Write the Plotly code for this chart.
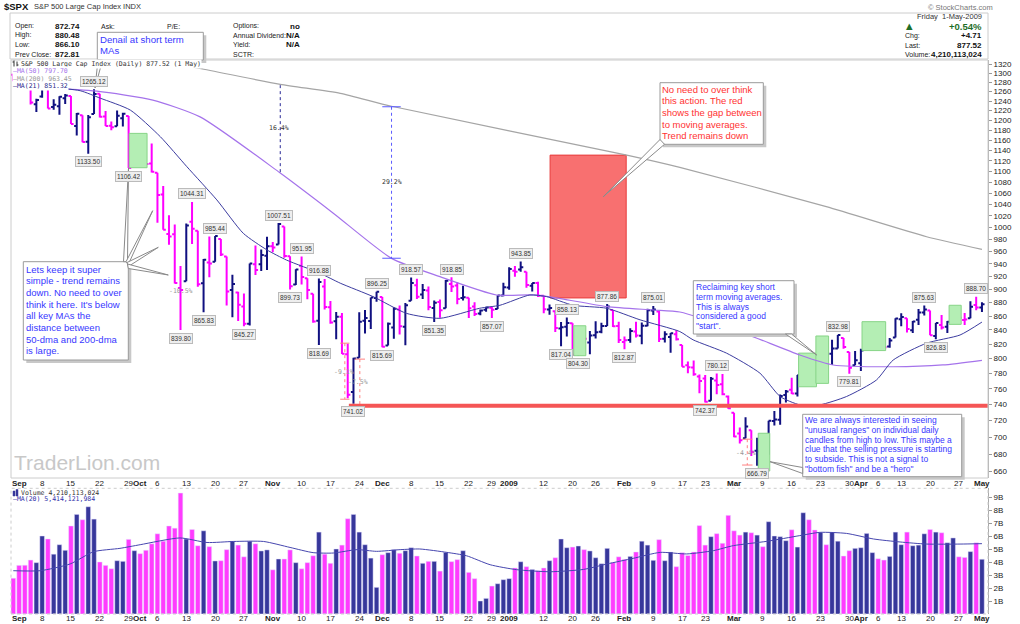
import math
import pandas as pd
import plotly.graph_objects as go

# ---------------- data ----------------
HOLIDAYS = ["2008-09-01", "2008-11-27", "2008-12-25", "2009-01-01",
            "2009-01-19", "2009-02-16", "2009-04-10"]
dates = [d for d in pd.bdate_range("2008-08-29", "2009-05-01")
         if d.strftime("%Y-%m-%d") not in HOLIDAYS]
xi = list(range(len(dates)))

prev_close = 1300.68  # close of 28-Aug-2008

opens = [1296.49,
 1287.83,1276.61,1271.80,1233.21, 1249.50,1267.98,1227.50,1229.04,1245.88, 1250.92,1188.31,1210.34,1157.08,1213.11, 1255.37,1207.61,1188.79,1187.87,1204.47, 1209.07,1113.78,
 1164.17,1160.64,1115.16, 1097.56,1057.60,988.91,988.42,902.31, 912.75,1009.97,994.60,909.53,942.29, 943.51,980.40,951.67,899.08,895.07, 874.28,848.92,939.51,939.38,953.11,
 968.67,971.31,1001.84,952.40,907.44, 936.75,917.15,893.39,853.13,904.36, 873.23,852.34,859.03,805.87,755.84, 801.20,853.40,852.90,886.89,
 888.61,817.94,843.60,869.75,844.43, 882.71,906.48,892.17,898.35,871.79, 881.07,871.53,908.16,905.98,886.96, 887.20,874.31,863.87,869.51, 872.37,870.58,890.59,
 902.99, 929.17,931.17,927.45,905.73,909.91, 890.40,869.79,867.28,841.99,844.45, 849.64,806.77,839.74,822.16, 832.50,837.30,845.73,868.89,845.69,
 823.09,825.69,837.77,831.75,846.09, 868.24,866.87,827.41,829.91,833.95, 818.61,791.06,787.91,775.87, 773.25,744.69,770.64,765.76,749.93,
 729.57,704.44,698.60,708.27,684.04, 680.76,679.28,719.59,720.89,751.97, 758.84,753.88,776.01,797.92,784.58, 772.00,820.60,806.81,814.06,828.68, 809.07,790.88,
 793.59,814.53,835.13, 839.75,834.12,816.76,829.29, 855.33,856.88,839.44,854.54,865.18, 868.27,831.25,847.26,844.62,853.91, 862.82,854.48,856.85,876.59,
 872.74]

highs = [1297.59,
 1303.04,1280.60,1271.80,1244.94, 1274.42,1268.66,1243.90,1249.98,1255.09, 1250.92,1214.84,1210.34,1211.14,1265.12, 1255.37,1219.15,1197.41,1220.03,1215.77, 1209.07,1168.03,
 1167.03,1160.64,1153.82, 1097.56,1072.91,1021.06,1005.25,936.36, 1006.93,1044.31,994.60,947.71,984.64, 985.44,980.40,951.67,922.83,896.30, 893.78,940.51,969.97,963.23,984.38,
 975.57,1007.51,1001.84,952.40,931.46, 951.95,917.15,893.39,916.88,916.20, 882.29,865.90,864.57,820.52,801.20, 865.60,868.94,887.68,896.25,
 888.61,850.54,873.12,875.60,879.42, 918.57,916.26,908.27,904.63,883.24, 884.63,914.66,918.85,911.02,905.47, 887.37,880.44,869.79,873.74, 873.70,891.12,910.32,
 934.73, 936.63,943.85,927.45,910.00,911.93, 890.40,877.02,867.28,851.59,858.13, 849.64,841.72,839.74,838.61, 852.53,850.45,877.86,868.89,851.66,
 830.78,842.60,851.85,850.55,870.75, 875.01,868.05,838.22,835.48,839.43, 818.61,796.17,797.58,778.69, 777.85,775.49,780.12,779.42,751.27,
 729.57,711.67,724.12,708.27,699.09, 695.27,719.60,731.92,752.63,758.29, 774.53,778.12,803.04,803.24,788.91, 823.37,823.65,826.27,832.98,828.68, 809.07,810.48,
 813.62,845.61,842.50, 839.75,834.12,828.42,856.91, 864.31,856.88,852.93,870.35,875.63, 868.27,850.09,861.78,852.87,871.80, 868.83,864.48,882.06,888.70,
 880.48]

lows = [1282.74,
 1272.20,1265.59,1232.83,1217.23, 1247.12,1224.51,1221.60,1211.54,1233.81, 1192.70,1169.28,1155.88,1133.50,1213.11, 1205.61,1188.22,1179.79,1187.87,1187.54, 1106.42,1113.78,
 1140.77,1111.43,1098.14, 1007.97,996.23,970.97,909.19,839.80, 912.75,972.07,903.99,865.83,918.74, 943.51,952.47,875.81,858.44,852.85, 845.27,846.30,922.26,928.50,930.23,
 958.82,971.31,949.86,899.73,906.90, 907.47,884.90,850.48,818.69,869.88, 848.98,826.84,806.18,747.78,741.02, 801.20,834.99,841.37,881.21,
 815.69,817.94,827.60,833.60,818.41, 882.71,885.38,885.45,868.73,851.35, 857.72,871.53,895.94,877.44,883.02, 857.09,860.10,861.44,866.52, 857.07,870.58,889.67,
 899.35, 919.53,927.28,902.37,896.81,888.31, 864.32,862.02,836.93,817.04,830.66, 804.47,804.30,811.29,806.07, 827.69,835.40,845.73,844.15,821.67,
 812.87,821.98,829.18,819.91,845.42, 861.65,822.99,822.30,808.06,825.21, 789.17,780.43,777.03,754.25, 742.37,744.69,752.89,751.75,734.52,
 699.70,692.30,698.60,677.93,666.79, 672.88,679.28,713.85,714.76,742.46, 753.37,749.93,765.64,781.82,766.20, 772.00,805.48,791.37,814.06,813.43, 779.81,790.88,
 783.32,814.53,826.70, 822.79,814.53,814.84,829.29, 845.35,836.31,835.58,847.04,860.87, 832.39,826.83,840.57,835.58,853.91, 854.65,847.12,856.85,868.51,
 866.10]

closes = [1282.83,
 1277.58,1274.98,1236.83,1242.31, 1267.79,1224.51,1232.04,1249.05,1251.70, 1192.70,1213.60,1156.39,1206.51,1255.08, 1207.09,1188.22,1185.87,1209.18,1213.27, 1106.42,1166.36,
 1161.06,1114.28,1099.23, 1056.89,996.23,984.94,909.92,899.22, 1003.35,998.01,907.84,946.43,940.55, 985.40,955.05,896.78,908.11,876.77, 848.92,940.51,930.09,954.09,968.75,
 966.30,1005.75,952.77,904.88,930.99, 919.21,898.95,852.30,911.29,873.29, 850.75,859.12,806.58,752.44,800.03, 851.81,857.39,887.68,896.24,
 816.21,848.81,870.74,845.22,876.07, 909.70,888.67,899.24,873.59,879.73, 868.57,913.18,904.42,885.28,887.88, 871.63,863.16,868.15,872.80, 869.42,890.64,903.25,
 931.80, 927.45,934.70,906.65,909.73,890.35, 870.26,871.79,842.62,843.74,850.12, 805.22,840.24,827.50,831.95, 836.57,845.71,874.09,845.14,825.88,
 825.44,838.51,832.23,845.85,868.60, 869.89,827.16,833.74,835.19,826.84, 789.17,788.42,778.94,770.05, 743.33,773.14,764.90,752.83,735.09,
 700.82,696.33,712.87,682.55,683.38, 676.53,719.60,721.36,750.74,756.55, 753.89,778.12,794.35,784.04,768.54, 822.92,806.12,813.88,832.86,815.94, 787.53,797.87,
 811.08,834.38,842.50, 835.48,815.55,825.16,856.56, 858.73,841.50,852.06,865.30,869.60, 832.39,850.08,843.55,851.92,866.23, 857.51,855.16,873.64,872.81,
 877.52]

# volume in billions of shares
volumes_b = [2.75,
 3.74,3.75,4.15,3.95, 6.0,5.77,4.6,5.33,4.9, 6.77,7.66,7.25,8.25,7.3, 4.0,3.74,3.48,4.1,4.05, 5.74,4.87,
 4.64,4.9,5.4, 6.17,5.6,6.77,6.6,9.3, 5.77,6.5,5.25,6.4,5.18, 4.08,4.1,4.95,5.6,5.3, 4.4,5.6,5.4,4.85,4.93,
 3.4,4.23,4.23,4.93,3.95, 3.48,3.95,4.48,6.3,4.6, 3.9,5.0,5.3,7.33,7.66, 6.3,5.33,4.3,2.05,
 4.56,4.72,4.95,4.67,4.87, 5.1,4.46,3.9,4.05,4.05, 3.3,4.74,4.03,4.18,4.87, 3.2,2.72,1.0,1.2, 2.15,2.33,2.64,
 2.72, 3.54,4.02,3.64,3.43,3.33, 3.54,4.1,4.33,5.77,5.1, 5.15,5.23,4.95,4.85, 4.33,3.87,5.05,3.97,4.4,
 4.2,4.43,4.77,5.6,5.3, 4.13,5.72,4.1,4.77,3.64, 4.72,4.5,4.77,6.8, 5.3,5.95,6.18,5.44,7.59,
 6.4,6.07,6.3,6.25,6.07, 5.18,7.1,6.0,5.95,5.64, 6.48,5.15,7.79,7.25,6.46, 6.28,5.33,6.28,5.6,4.46, 4.87,5.05,
 5.1,6.2,4.72, 4.25,4.15,4.43,6.3, 5.33,6.3,5.25,5.3,6.17, 6.5,6.3,6.25,5.48,5.85, 4.4,4.35,4.8,5.48,
 4.21]

# moving averages (trading-day index, value)
ma200_x = [15, 31.9, 46.3, 56.7, 65.6, 106.4, 115.6, 141, 158.4, 168]
ma200_y = [1354, 1311.7, 1275.8, 1256.4, 1229, 1131, 1107.7, 1036, 984.4, 963.45]
ma50_x = [0, 6.4, 14.5, 24.2, 32.4, 46.3, 55.5, 65.6, 74, 83.8, 89.6, 93.6, 103, 111, 115.6,
          126.6, 136.4, 142.2, 152.6, 161.2, 168]
ma50_y = [1268, 1267, 1261, 1242, 1207, 1097, 1024.6, 948.8, 919.7, 891.5, 891.5, 888, 874, 869, 866,
          835.7, 805, 791.4, 789, 791.4, 797.7]
ma21_x = [0, 6.4, 11.6, 15.1, 20.3, 25.5, 30.1, 35.3, 39.9, 44, 47.4, 53.2, 56.7, 62.4, 68.2, 74,
          80.9, 84.4, 89.6, 92.5, 97.1, 102.9, 108.7, 115.6, 117.9, 123.7, 129.5, 133, 136.4, 139.9,
          144.5, 149.7, 152.6, 158.4, 164.2, 168]
ma21_y = [1271, 1269, 1262, 1246, 1221, 1167, 1109, 1048, 990, 962.5, 946, 925, 909.6, 889, 864, 856.8,
          871.6, 876, 891.5, 889, 876, 871.6, 854.6, 837.7, 826, 807.5, 780.4, 750, 739.5, 739.5,
          750, 771.4, 798, 821.3, 832.8, 851.3]
vma_x = [0, 4.65, 9.86, 13.9, 18.5, 22, 28.9, 33.6, 38.2, 43.4, 48, 52, 55.5, 59.6, 63, 67.1, 70.5,
         75.2, 78.6, 82.7, 87.3, 93.1, 98.9, 103, 107.5, 112.2, 116.8, 121.4, 124.9, 130.7, 136.4,
         139.9, 144.5, 149.2, 153.8, 158.4, 164.2, 168]
vma_y = [3.33, 3.33, 3.85, 4.79, 5.05, 5.33, 5.85, 5.5, 5.58, 5.58, 5.12, 4.72, 4.69, 4.95, 4.82, 4.95,
         5.0, 4.74, 4.48, 3.79, 3.41, 3.25, 3.43, 3.85, 4.28, 4.74, 4.62, 4.87, 5.26, 5.59, 6.03,
         6.28, 6.2, 5.77, 5.54, 5.38, 5.38, 5.41]

tick_idx = [1, 5, 10, 15, 20, 22, 25, 30, 35, 40, 45, 50, 55, 60, 64, 69, 74, 79, 83, 86, 92, 97, 101,
            106, 111, 116, 120, 125, 130, 135, 140, 145, 147, 150, 154, 159, 164, 168]
tick_txt = ["<b>Sep</b>", "8", "15", "22", "29", "<b>Oct</b>", "6", "13", "20", "27", "<b>Nov</b>",
            "10", "17", "24", "<b>Dec</b>", "8", "15", "22", "29", "<b>2009</b>", "12", "20", "26",
            "<b>Feb</b>", "9", "17", "23", "<b>Mar</b>", "9", "16", "23", "30", "<b>Apr</b>", "6",
            "13", "20", "27", "<b>May</b>"]

high_label_idx = [14, 31, 35, 46, 50, 53, 63, 69, 76, 88, 96, 103, 111, 122, 143, 158, 167]
low_label_idx = [13, 20, 29, 33, 40, 48, 53, 59, 64, 73, 83, 95, 98, 106, 120, 129, 145, 160]

n = len(dates)
assert all(len(a) == n for a in (opens, highs, lows, closes, volumes_b)), [len(a) for a in (opens, highs, lows, closes, volumes_b)]

# ---------------- styling / geometry ----------------
W, H = 1020, 624
ML, MR, MT, MB = 11, 32, 60, 10
SANS = "Liberation Sans"
MONO = "DejaVu Sans Mono"
MAG = "rgb(255,0,255)"
NAVY = "rgb(16,16,128)"
VMAG = "rgb(255,60,255)"
VNAVY = "rgb(55,55,155)"
BLUE_TXT = "rgb(55,55,255)"
RED_TXT = "rgb(255,50,50)"

def px(x):
    return (x - ML) / (W - ML - MR)

def py(y):
    return (H - MB - y) / (H - MT - MB)

PRICE_DOM = [py(478), 1.0]
VOL_DOM = [0.0, py(488.3)]
XR = [-0.4, 169.05]

prev = [prev_close] + closes[:-1]
up = [closes[i] >= prev[i] for i in range(n)]

fig = go.Figure()

# highlight boxes (green) and gap box (red)
GREEN_BOXES = [(20.1, 23.2, 1107, 1173.6), (97.2, 99.3, 804, 846), (129.2, 131.2, 660.8, 704.6),
               (136.2, 139.3, 762.6, 807.5), (139.2, 141.4, 767, 831.4), (147.2, 151.3, 811, 851.9),
               (162.3, 164.4, 848, 876)]
for x0, x1, y0, y1 in GREEN_BOXES:
    fig.add_trace(go.Scatter(x=[x0, x1, x1, x0, x0], y=[y0, y0, y1, y1, y0], mode="lines",
                             fill="toself", fillcolor="rgb(180,238,180)",
                             line=dict(color="rgb(135,212,135)", width=1), hoverinfo="skip"))

RED_GAP = (93.1, 106.3, 887, 1131)
x0, x1, y0, y1 = RED_GAP
fig.add_trace(go.Scatter(x=[x0, x1, x1, x0, x0], y=[y0, y0, y1, y1, y0], mode="lines",
                         fill="toself", fillcolor="rgb(248,112,112)",
                         line=dict(color="rgb(232,60,60)", width=1), hoverinfo="skip"))

# moving averages
fig.add_trace(go.Scatter(x=ma200_x, y=ma200_y, mode="lines", line=dict(color="rgb(165,165,165)", width=1.2, shape="spline", smoothing=0.6), hoverinfo="skip"))
fig.add_trace(go.Scatter(x=ma50_x, y=ma50_y, mode="lines", line=dict(color="rgb(165,115,235)", width=1.2, shape="spline", smoothing=0.6), hoverinfo="skip"))
fig.add_trace(go.Scatter(x=ma21_x, y=ma21_y, mode="lines", line=dict(color="rgb(60,60,160)", width=1, shape="spline", smoothing=0.6), hoverinfo="skip"))

# measurement dashed lines
MEASURES = [  # x, top, bottom, color, cap half width
    (46.3, 1274, 1097, "rgb(40,40,150)", 0),
    (65.6, 1228, 949, "rgb(90,90,255)", 1.6),
    (57.5, 821.3, 746.6, "rgb(255,130,130)", 0.8),
    (60.1, 799.3, 739.4, "rgb(255,130,130)", 0.9),
    (127.3, 697.5, 667.5, "rgb(255,130,130)", 0.9),
]
for mx, top, bot, col, cap in MEASURES:
    fig.add_trace(go.Scatter(x=[mx, mx], y=[top, bot], mode="lines",
                             line=dict(color=col, width=1, dash="dot"), hoverinfo="skip"))
    if cap:
        for yy in (top, bot):
            fig.add_trace(go.Scatter(x=[mx - cap, mx + cap], y=[yy, yy], mode="lines",
                                     line=dict(color=col, width=1), hoverinfo="skip"))

# price bars (coloured by close vs previous close)
for mask, col in ((up, NAVY), ([not u for u in up], MAG)):
    ids = [i for i in range(n) if mask[i]]
    fig.add_trace(go.Ohlc(x=ids, open=[opens[i] for i in ids], high=[highs[i] for i in ids],
                          low=[lows[i] for i in ids], close=[closes[i] for i in ids],
                          increasing=dict(line=dict(color=col, width=2)),
                          decreasing=dict(line=dict(color=col, width=2)),
                          tickwidth=0.45, hoverinfo="skip"))

# support line
SUPPORT = (58.2, 169.05, 738.5)
fig.add_trace(go.Scatter(x=[SUPPORT[0], SUPPORT[1]], y=[SUPPORT[2], SUPPORT[2]], mode="lines",
                         line=dict(color="rgb(245,85,85)", width=4), hoverinfo="skip"))

# volume
fig.add_trace(go.Bar(x=xi, y=volumes_b, xaxis="x2", yaxis="y2", width=0.8,
                     marker=dict(color=[VNAVY if u else VMAG for u in up],
                                 line=dict(color="rgba(230,225,255,0.8)", width=0.6)),
                     hoverinfo="skip"))
fig.add_trace(go.Scatter(x=vma_x, y=vma_y, xaxis="x2", yaxis="y2", mode="lines",
                         line=dict(color="rgb(70,70,175)", width=1, shape="spline", smoothing=0.6),
                         hoverinfo="skip"))

# ---------------- annotations ----------------
ann = []
shapes = []

def T(x, y, s, size=7.5, color="#222", anchor="left", bold=False, family=SANS, bg=None):
    a = dict(xref="paper", yref="paper", x=px(x), y=py(y), text=(f"<b>{s}</b>" if bold else s),
             showarrow=False, xanchor=anchor, yanchor="middle", borderpad=0,
             font=dict(size=size, color=color, family=family))
    if bg:
        a["bgcolor"] = bg
    ann.append(a)

def rect(x0, y0, x1, y1, line="#999", fill="white", width=1, dash=None):
    d = dict(type="rect", xref="paper", yref="paper", x0=px(x0), x1=px(x1), y0=py(y1), y1=py(y0),
             line=dict(color=line, width=width), fillcolor=fill)
    if dash:
        d["line"]["dash"] = dash
    shapes.append(d)

def wedge(b1, b2, apex):
    p = f"M {px(b1[0])},{py(b1[1])} L {px(apex[0])},{py(apex[1])} L {px(b2[0])},{py(b2[1])} Z"
    shapes.append(dict(type="path", xref="paper", yref="paper", path=p, fillcolor="white",
                       line=dict(color="#8a8a8a", width=1)))

# panel frames
rect(10, 13, 988, 59, line="#cccccc", fill="rgba(0,0,0,0)")
rect(11, 60, 988, 478, line="#cccccc", fill="rgba(0,0,0,0)")
rect(11, 488.3, 988, 614, line="#cccccc", fill="rgba(0,0,0,0)", dash="dot")

# date labels between the panels and under the volume panel
for ti, tt in zip(tick_idx, tick_txt):
    for yy in (483.3, 618.3):
        ann.append(dict(xref="x", yref="paper", x=ti, y=py(yy), text=tt, showarrow=False,
                        xanchor="center", yanchor="middle", borderpad=0,
                        font=dict(size=8, family=SANS, color="#222")))

# header
T(3, 7, "$SPX", size=9.5, bold=True, color="#111")
T(33, 7, "S&amp;P 500 Large Cap Index INDX", size=7.5, color="#333")
T(960, 7.3, "© StockCharts.com", size=7.5, color="#777", anchor="center")
rows = [26, 35.3, 44.7, 54]
for y, lab, val in zip(rows, ["Open:", "High:", "Low:", "Prev Close:"],
                       [opens[-1], highs[-1], lows[-1], closes[-2]]):
    T(14, y, lab, size=7)
    T(53.5, y, f"{val:.2f}", size=8, bold=True, color="#111")
T(99.5, 26, "Ask:", size=7)
T(166, 26, "P/E:", size=7)
for y, lab, val in zip(rows, ["Options:", "Annual Dividend:", "Yield:", "SCTR:"], ["no", "N/A", "N/A", ""]):
    T(232, y, lab, size=7)
    if val:
        T(300.7, y, val, size=8, bold=True, anchor="right", color="#111")
chg = closes[-1] - closes[-2]
T(983.3, 16.7, "Friday  1-May-2009", size=7.5, anchor="right", color="#333")
T(909, 26, "▲", size=8.5, anchor="center", color="rgb(30,110,40)", family="DejaVu Sans")
T(983.3, 26.5, f"+{chg / closes[-2] * 100:.2f}%", size=9.5, bold=True, anchor="right", color="rgb(30,110,40)")
T(904, 35.7, "Chg:", size=7)
T(983.3, 35.7, f"+{chg:.2f}", size=8, bold=True, anchor="right", color="#111")
T(904, 45, "Last:", size=7)
T(983.3, 45, f"{closes[-1]:.2f}", size=8, bold=True, anchor="right", color="#111")
T(904, 54.3, "Volume:", size=7)
T(983.3, 54.3, "4,210,113,024", size=8, bold=True, anchor="right", color="#111")

# price-panel legend
shapes.append(dict(type="path", xref="paper", yref="paper",
                   path=f"M {px(14)},{py(60.5)} L {px(14)},{py(67)} M {px(12.5)},{py(62)} L {px(14)},{py(62)} "
                        f"M {px(17)},{py(61.5)} L {px(17)},{py(66.5)} M {px(17)},{py(65)} L {px(18.5)},{py(65)}",
                   line=dict(color="#333", width=1)))
T(20, 63.8, f"S&amp;P 500 Large Cap Index (Daily) {closes[-1]:.2f} (1 May)", size=6.5, family=MONO, color="#333", bg="white")
T(12, 71.5, "\u2014MA(50) 797.70", size=6.5, family=MONO, color="rgb(165,115,235)", bg="white")
T(12, 79, "\u2014MA(200) 963.45", size=6.5, family=MONO, color="#999", bg="white")
T(12, 86.3, "\u2014MA(21) 851.32", size=6.5, family=MONO, color="rgb(40,40,140)", bg="white")

# volume legend
shapes.append(dict(type="path", xref="paper", yref="paper",
                   path=f"M {px(13)},{py(496)} L {px(13)},{py(491)} L {px(15)},{py(491)} L {px(15)},{py(496)} Z "
                        f"M {px(16)},{py(496)} L {px(16)},{py(489.5)} L {px(18)},{py(489.5)} L {px(18)},{py(496)} Z",
                   fillcolor="rgb(55,55,155)", line=dict(color="rgb(55,55,155)", width=0.5)))
T(20, 492.7, "Volume 4,210,113,024", size=6.5, family=MONO, color="#333")
T(12, 499.3, "\u2014MA(20) 5,414,121,984", size=6.5, family=MONO, color="rgb(50,50,170)")

# watermark
T(13.3, 462, "TraderLion.com", size=21, color="rgb(200,200,200)")

# measurement texts
T(279.3, 128, "16.4%", size=6.5, family=MONO, anchor="center", color="#333")
T(391.7, 182, "29.2%", size=6.5, family=MONO, anchor="center", color="#333")
T(181, 290.5, "-10.5%", size=6.5, family=MONO, anchor="center", color="#999")
T(344, 371.7, "-9.1%", size=6.5, family=MONO, anchor="center", color="#999")
T(358, 381.7, "-7.5%", size=6.5, family=MONO, anchor="center", color="#999")
T(746, 452.7, "-4.4%", size=6.5, family=MONO, anchor="center", color="#999")

# comment boxes
BOXES = [
    dict(box=(97.3, 32.3, 203.3, 60), x=99, y=39.5, dy=11.5, size=9.6, color=BLUE_TXT,
         lines=["Denail at short term", "MAs"]),
    dict(box=(23.3, 261.7, 128.3, 360), x=24.5, y=269.3, dy=11.67, size=9.5, color=BLUE_TXT,
         lines=["Lets keep it super", "simple - trend remains", "down. No need to over",
                "think it here. It's below", "all key MAs the", "distance between",
                "50-dma and 200-dma", "is large."]),
    dict(box=(660, 82.7, 763.3, 144.3), x=661, y=89.3, dy=11.67, size=9.5, color=RED_TXT,
         lines=["No need to over think", "this action. The red", "shows the gap between",
                "to moving averages.", "Trend remains down"]),
    dict(box=(693.3, 280.7, 794, 334), x=695, y=287, dy=9.77, size=8.5, color=BLUE_TXT,
         lines=["Reclaiming key short", "term moving averages.", "This is always",
                "considered a good", "\"start\"."]),
    dict(box=(802.7, 414.3, 961.7, 476.7), x=804, y=420.2, dy=9.73, size=8.5, color=BLUE_TXT,
         lines=["We are always interested in seeing", "\"unusual ranges\" on individual daily",
                "candles from high to low. This maybe a", "clue that the selling pressure is starting",
                "to subside. This is not a signal to", "\"bottom fish\" and be a \"hero\""]),
]
for b in BOXES:
    x0, y0, x1, y1 = b["box"]
    rect(x0 + 3, y0 + 3, x1 + 3, y1 + 3, line="rgba(0,0,0,0)", fill="rgb(200,200,200)")
    rect(x0, y0, x1, y1, line="#9a9a9a", fill="white")
    for k, s in enumerate(b["lines"]):
        T(b["x"], b["y"] + k * b["dy"], s, size=b["size"], color=b["color"])

# callout pointers
wedge((98, 60), (102.5, 60), (95, 88))
wedge((123.5, 261.7), (127.5, 261.7), (128.5, 168))
wedge((126, 261.7), (128.3, 264.5), (152.7, 210.7))
wedge((127, 262.5), (128.3, 266.5), (158.3, 247.3))
wedge((127.5, 264), (128.3, 268.5), (168.3, 275))
wedge((660, 139.5), (664.5, 144.3), (603.3, 196.7))
wedge((785.5, 334), (791.5, 334), (816.7, 355))
wedge((802.7, 467.5), (802.7, 473.5), (770, 461.7))

# high / low value labels on the price panel
for i in high_label_idx:
    ann.append(dict(xref="x", yref="y", x=i, y=math.log10(highs[i]), yshift=8, text=f"{highs[i]:.2f}",
                    showarrow=False, xanchor="center", yanchor="middle", bgcolor="rgb(238,238,238)",
                    bordercolor="#bbbbbb", borderwidth=1, borderpad=1,
                    font=dict(size=6.5, color="#333", family=SANS)))
for i in low_label_idx:
    ann.append(dict(xref="x", yref="y", x=i, y=math.log10(lows[i]), yshift=-8, text=f"{lows[i]:.2f}",
                    showarrow=False, xanchor="center", yanchor="middle", bgcolor="rgb(238,238,238)",
                    bordercolor="#bbbbbb", borderwidth=1, borderpad=1,
                    font=dict(size=6.5, color="#333", family=SANS)))

# ---------------- layout ----------------
axis_font = dict(size=8, family=SANS, color="#222")
fig.update_layout(
    width=W, height=H, margin=dict(l=ML, r=MR, t=MT, b=MB, autoexpand=False),
    paper_bgcolor="white", plot_bgcolor="white", showlegend=False,
    xaxis=dict(domain=[0, 1], range=XR, anchor="y", tickvals=tick_idx, showticklabels=False,
               showgrid=False, zeroline=False, showline=False, ticks="",
               rangeslider=dict(visible=False), automargin=False),
    xaxis2=dict(domain=[0, 1], range=XR, anchor="y2", tickvals=tick_idx, showticklabels=False,
                showgrid=False, zeroline=False, showline=False, ticks="", automargin=False),
    yaxis=dict(domain=PRICE_DOM, type="log", range=[math.log10(1320) - (478 - 64.3) / 1353.3,
                                                    math.log10(1320) + (64.3 - 60) / 1353.3],
               side="right", tickvals=list(range(660, 1321, 20)), ticks="outside", ticklen=3,
               tickcolor="#999", showline=True, linecolor="#aaaaaa", showgrid=False,
               zeroline=False, tickfont=axis_font, automargin=False),
    yaxis2=dict(domain=VOL_DOM, range=[0, (614 - 488.3) / 13.0], side="right",
                tickvals=list(range(1, 10)), ticktext=[f"{v}B" for v in range(1, 10)],
                ticks="outside", ticklen=3, tickcolor="#999", showline=True, linecolor="#aaaaaa",
                showgrid=False, zeroline=False, tickfont=axis_font, automargin=False),
    annotations=ann, shapes=shapes, bargap=0.2,
)

fig.write_html("out.html", config={"displayModeBar": False},
               post_script="document.body.style.margin='0px';document.body.style.overflow='hidden';")
